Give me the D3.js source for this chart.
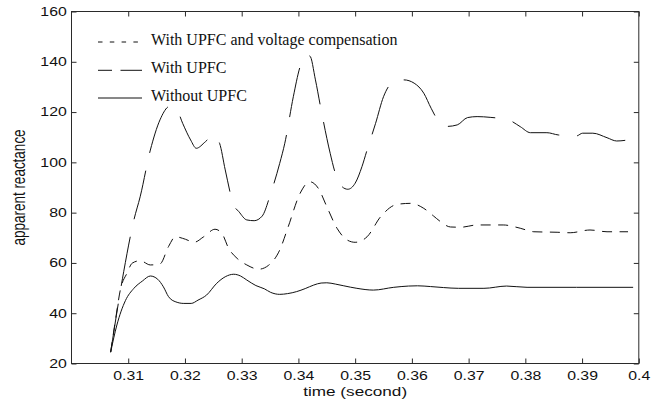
<!DOCTYPE html>
<html>
<head>
<meta charset="utf-8">
<script src="https://cdn.jsdelivr.net/npm/d3@7"></script>
<style>
  body { margin: 0; background: #fff; }
  svg { display: block; }
</style>
</head>
<body>
<svg id="chart" width="668" height="402"></svg>
<script>
// Axis ticks
const xTickValues = [0.31, 0.32, 0.33, 0.34, 0.35, 0.36, 0.37, 0.38, 0.39, 0.40];
const xTickLabels = ["0.31", "0.32", "0.33", "0.34", "0.35", "0.36", "0.37", "0.38", "0.39", "0.4"];
const yTickValues = [20, 40, 60, 80, 100, 120, 140, 160];

// Legend entries, top to bottom
const seriesNames = ["With UPFC and voltage compensation", "With UPFC", "Without UPFC"];

// With UPFC and voltage compensation (short dashes)
const tCompensated = [0.3069, 0.3078, 0.3086, 0.3098, 0.3107, 0.3121, 0.3139, 0.3156, 0.3171, 0.3183,
  0.3201, 0.3216, 0.3233, 0.3253, 0.3265, 0.3277, 0.3292, 0.3309, 0.3330, 0.3347,
  0.3367, 0.3382, 0.3403, 0.3420, 0.3435, 0.3450, 0.3468, 0.3486, 0.3500, 0.3521,
  0.3545, 0.3574, 0.3598, 0.3621, 0.3638, 0.3650, 0.3668, 0.3686, 0.3715, 0.3761,
  0.3791, 0.3815, 0.3856, 0.3879, 0.3914, 0.3944, 0.3981];
const vCompensated = [24.5, 38.0, 49.2, 56.0, 59.9, 60.9, 59.2, 59.6, 66.5, 70.4,
  69.4, 68.2, 70.4, 73.4, 71.8, 65.8, 61.8, 59.2, 57.5, 59.0,
  65.1, 74.4, 87.7, 92.3, 89.7, 82.4, 73.8, 69.1, 68.2, 70.4,
  78.4, 83.3, 83.7, 81.7, 78.7, 76.5, 74.3, 74.2, 75.1, 75.1,
  73.8, 72.4, 72.2, 72.0, 73.1, 72.4, 72.4];

// With UPFC (long dashes)
const tUpfc = [0.3069, 0.3092, 0.3110, 0.3121, 0.3139, 0.3156, 0.3174, 0.3186, 0.3196, 0.3210,
  0.3220, 0.3236, 0.3250, 0.3261, 0.3271, 0.3286, 0.3295, 0.3309, 0.3322, 0.3336,
  0.3351, 0.3367, 0.3376, 0.3391, 0.3403, 0.3411, 0.3420, 0.3430, 0.3439, 0.3456,
  0.3465, 0.3477, 0.3487, 0.3500, 0.3512, 0.3521, 0.3536, 0.3550, 0.3568, 0.3586,
  0.3604, 0.3621, 0.3634, 0.3650, 0.3662, 0.3680, 0.3698, 0.3715, 0.3738, 0.3770,
  0.3791, 0.3809, 0.3838, 0.3858, 0.3890, 0.3901, 0.3919, 0.3944, 0.3961, 0.3981];
const vUpfc = [24.5, 56.5, 77.1, 86.3, 104.9, 116.9, 122.4, 120.8, 115.5, 108.9,
  105.6, 108.2, 110.9, 107.6, 97.0, 83.0, 80.4, 77.1, 76.8, 78.6,
  87.5, 99.6, 107.6, 126.1, 138.1, 142.3, 142.3, 132.8, 122.1, 103.6,
  95.7, 90.3, 89.3, 91.7, 98.3, 104.9, 115.5, 126.1, 132.1, 132.8,
  131.5, 127.5, 121.5, 115.5, 114.3, 114.9, 117.8, 118.2, 117.9, 116.9,
  114.2, 111.8, 111.8, 110.9, 110.5, 111.6, 111.6, 109.8, 108.5, 108.9];

// Without UPFC (solid)
const tNoUpfc = [0.3069, 0.3080, 0.3095, 0.3110, 0.3125, 0.3139, 0.3152, 0.3162, 0.3171, 0.3184,
  0.3198, 0.3211, 0.3223, 0.3238, 0.3256, 0.3271, 0.3286, 0.3298, 0.3309, 0.3325,
  0.3340, 0.3351, 0.3367, 0.3381, 0.3397, 0.3412, 0.3427, 0.3440, 0.3450, 0.3465,
  0.3480, 0.3503, 0.3532, 0.3568, 0.3594, 0.3610, 0.3633, 0.3656, 0.3682, 0.3727,
  0.3767, 0.3803, 0.3890, 0.3990];
const vNoUpfc = [24.5, 35.3, 45.0, 49.9, 52.8, 54.8, 53.5, 50.5, 46.6, 44.5,
  43.9, 43.9, 45.2, 47.2, 51.9, 54.5, 55.5, 54.8, 53.2, 51.0,
  49.7, 48.3, 47.5, 47.8, 48.6, 49.8, 51.2, 52.0, 52.1, 51.6,
  50.9, 49.9, 49.2, 50.3, 50.8, 50.9, 50.6, 50.2, 49.9, 49.9,
  50.8, 50.3, 50.3, 50.3];

// Line styles: dash length, gap length, and the time at which one dash ends
const series = [
  { name: seriesNames[0], t: tCompensated, v: vCompensated, dash: [10, 7.5], dashEndsAt: null, legendDash: "4.5,7.3" },
  { name: seriesNames[1], t: tUpfc, v: vUpfc, dash: [50, 18], dashEndsAt: 0.3858, legendDash: "14,8.5,30" },
  { name: seriesNames[2], t: tNoUpfc, v: vNoUpfc, dash: null, dashEndsAt: null, legendDash: null }
];

const svg = d3.select("#chart");
const plot = { left: 71.5, right: 638.8, top: 11.5, bottom: 363.5 };

const x = d3.scaleLinear().domain([0.30, 0.40]).range([plot.left, plot.right]);
const y = d3.scaleLinear().domain([20, 160]).range([plot.bottom, plot.top]);

const inkAxis = "#2a2a2a";
const inkText = "#111";
const sansFont = "'Liberation Sans', Arial, Helvetica, sans-serif";
const serifFont = "'Liberation Serif', 'Times New Roman', serif";
const stretch = 1.32;   // wide Helvetica look of the axis text

// Axes with inward ticks on all four sides
function styleAxis(g) {
  g.select(".domain").remove();
  g.selectAll(".tick line").attr("stroke", inkAxis).attr("stroke-width", 1);
  g.selectAll(".tick text")
    .attr("fill", inkText)
    .style("font-family", sansFont)
    .style("font-size", "12px");
}

svg.append("g")
  .attr("transform", `translate(0,${plot.bottom})`)
  .call(d3.axisBottom(x)
    .tickValues(xTickValues)
    .tickFormat((d, i) => xTickLabels[i])
    .tickSizeInner(-5).tickSizeOuter(0).tickPadding(8))
  .call(styleAxis)
  .call(g => g.selectAll(".tick text").attr("transform", `scale(${stretch},1)`));

svg.append("g")
  .attr("transform", `translate(0,${plot.top})`)
  .call(d3.axisTop(x).tickValues(xTickValues).tickFormat("").tickSizeInner(-5).tickSizeOuter(0))
  .call(styleAxis);

svg.append("g")
  .attr("transform", `translate(${plot.left},0)`)
  .call(d3.axisLeft(y)
    .tickValues(yTickValues)
    .tickFormat(d3.format("d"))
    .tickSizeInner(-5).tickSizeOuter(0).tickPadding(3.6))
  .call(styleAxis)
  .call(g => g.selectAll(".tick text").attr("transform", `scale(${stretch},1)`));

svg.append("g")
  .attr("transform", `translate(${plot.right},0)`)
  .call(d3.axisRight(y).tickValues(yTickValues).tickFormat("").tickSizeInner(-5).tickSizeOuter(0))
  .call(styleAxis);

// Box around the plot area
svg.append("rect")
  .attr("x", plot.left).attr("y", plot.top)
  .attr("width", plot.right - plot.left).attr("height", plot.bottom - plot.top)
  .attr("fill", "none").attr("stroke", inkAxis).attr("stroke-width", 1);

// Axis titles
svg.append("text")
  .attr("transform", `translate(${(plot.left + plot.right) / 2},396) scale(${stretch},1)`)
  .attr("text-anchor", "middle")
  .attr("fill", inkText)
  .style("font-family", sansFont).style("font-size", "13px")
  .text("time (second)");

svg.append("text")
  .attr("transform", `translate(25,${(plot.top + plot.bottom) / 2}) rotate(-90) scale(1,${stretch})`)
  .attr("text-anchor", "middle")
  .attr("fill", inkText)
  .style("font-family", sansFont).style("font-size", "13.5px")
  .text("apparent reactance");

// Curves
const line = d3.line()
  .x(d => x(d[0]))
  .y(d => y(d[1]))
  .curve(d3.curveMonotoneX);

// Offset that makes a dash finish at the given time along the path
function dashOffset(node, tEnd, dash) {
  const period = dash[0] + dash[1];
  const xEnd = x(tEnd);
  let lo = 0, hi = node.getTotalLength();
  for (let k = 0; k < 40; k++) {
    const mid = (lo + hi) / 2;
    if (node.getPointAtLength(mid).x < xEnd) lo = mid; else hi = mid;
  }
  return (((dash[0] - lo) % period) + period) % period;
}

series.forEach(s => {
  const pts = s.t.map((t, i) => [t, s.v[i]]);
  const path = svg.append("path")
    .datum(pts)
    .attr("d", line)
    .attr("fill", "none")
    .attr("stroke", "#111")
    .attr("stroke-width", 1);
  if (s.dash) {
    path.attr("stroke-dasharray", s.dash.join(","));
    if (s.dashEndsAt !== null) {
      path.attr("stroke-dashoffset", dashOffset(path.node(), s.dashEndsAt, s.dash));
    }
  }
});

// Legend (no frame)
const legend = svg.append("g");
const legendRows = [45, 73.3, 101];
series.forEach((s, i) => {
  const yy = legendRows[i];
  legend.append("line")
    .attr("x1", 98).attr("x2", 142)
    .attr("y1", yy - 3).attr("y2", yy - 3)
    .attr("stroke", "#111").attr("stroke-width", 1)
    .attr("stroke-dasharray", s.legendDash);
  legend.append("text")
    .attr("x", 151).attr("y", yy)
    .attr("fill", inkText)
    .style("font-family", serifFont).style("font-size", "16px")
    .text(s.name);
});
</script>
</body>
</html>
